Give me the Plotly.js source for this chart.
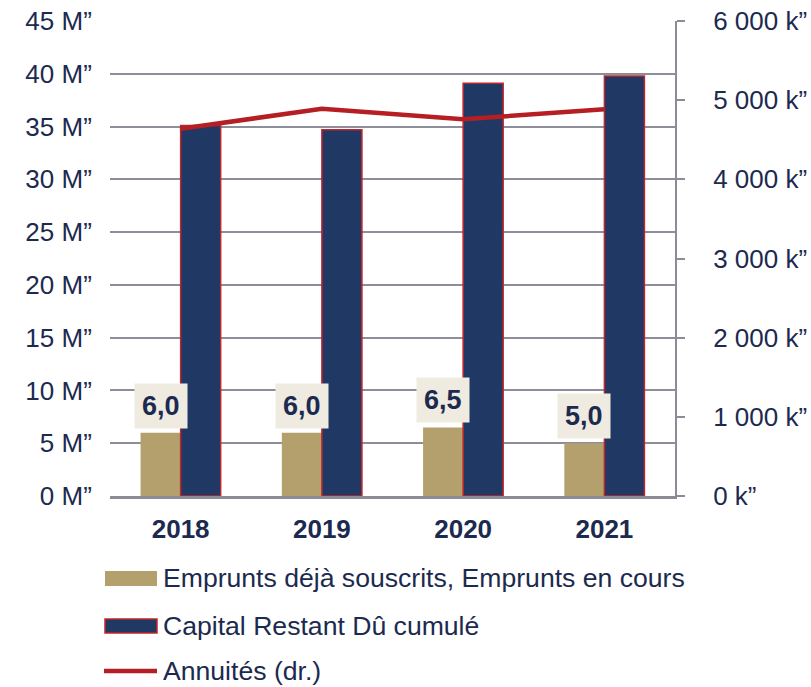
<!DOCTYPE html>
<html><head><meta charset="utf-8">
<script src="https://cdn.plot.ly/plotly-3.0.1.min.js"></script>
<style>html,body{margin:0;padding:0;background:#fff}#chart{width:811px;height:687px}</style>
</head><body><div id="chart"></div>
<script>
const years = ['2018','2019','2020','2021'];
const emprunts = [6.0, 6.0, 6.5, 5.0];            // M
const capitalRestantDu = [35.1, 34.7, 39.1, 39.8]; // M
const annuites = [4640, 4890, 4760, 4885];       // k
const empruntsLabels = ['6,0','6,0','6,5','5,0'];
const leftTickVals = [0,5,10,15,20,25,30,35,40,45];
const leftTickText = ['0 M”','5 M”','10 M”','15 M”','20 M”','25 M”','30 M”','35 M”','40 M”','45 M”'];
const rightTickVals = [0,1000,2000,3000,4000,5000,6000];
const rightTickText = ['0 k”','1 000 k”','2 000 k”','3 000 k”','4 000 k”','5 000 k”','6 000 k”'];
const legendNames = ['Emprunts déjà souscrits, Emprunts en cours','Capital Restant Dû cumulé','Annuités (dr.)'];

const navyText = '#1c2a4f';
const font = 'Liberation Sans, Arial, sans-serif';
const FS = 26;
const W = 811, H = 687;
const M = {l:110, r:136, t:21, b:191};
const pw = W - M.l - M.r, ph = H - M.t - M.b;
const px = x => (x - M.l) / pw;        // pixel -> paper x
const py = y => (H - M.b - y) / ph;    // pixel -> paper y

const traces = [
  {type:'bar', name:legendNames[0], x:years, y:emprunts,
   marker:{color:'#b4a06c'}, yaxis:'y', hoverinfo:'skip', showlegend:false},
  {type:'bar', name:legendNames[1], x:years, y:capitalRestantDu,
   marker:{color:'#1f3864', line:{color:'#c0262b', width:1.5}}, yaxis:'y', hoverinfo:'skip', showlegend:false},
  {type:'scatter', mode:'lines', name:legendNames[2], x:years, y:annuites, yaxis:'y2',
   line:{color:'#b51f24', width:4.5}, hoverinfo:'skip', showlegend:false}
];

const annotations = years.map((yr,i)=>({
  x: i, y: emprunts[i], xref:'x', yref:'y', text:'<b>'+empruntsLabels[i]+'</b>',
  showarrow:false, xshift:-20, yshift:27, bgcolor:'#efebe1', borderpad:7,
  font:{family:font, size:27, color:navyText}
}));
// custom legend
const legendY = [578, 626, 671];
legendNames.forEach((n,i)=>annotations.push({
  xref:'paper', yref:'paper', x:px(161), y:py(legendY[i]), xanchor:'left', yanchor:'middle',
  text:n, showarrow:false, font:{family:font, size:26.6, color:navyText}
}));
const shapes = [
  {type:'rect', xref:'paper', yref:'paper', x0:px(105), x1:px(157), y0:py(586), y1:py(571),
   fillcolor:'#b4a06c', line:{width:0}},
  {type:'rect', xref:'paper', yref:'paper', x0:px(105), x1:px(157), y0:py(633), y1:py(619),
   fillcolor:'#1f3864', line:{color:'#c0262b', width:1.5}},
  {type:'line', xref:'paper', yref:'paper', x0:px(104), x1:px(157), y0:py(671), y1:py(671),
   line:{color:'#b51f24', width:4.5}}
];

const layout = {
  width:W, height:H,
  margin:M,
  paper_bgcolor:'#fff', plot_bgcolor:'#fff',
  barmode:'group', bargap:0.433, bargroupgap:0,
  font:{family:font, color:navyText, size:FS},
  xaxis:{type:'category', range:[-0.5,3.5], showgrid:false, showline:true, linecolor:'#8c8c99', linewidth:2.5,
    ticks:'outside', ticklen:8, tickcolor:'rgba(0,0,0,0)',
    tickfont:{family:font, size:FS, color:navyText, weight:'bold'}},
  yaxis:{range:[0,45], tickvals:leftTickVals, ticktext:leftTickText, showgrid:true,
    gridcolor:'#8e8e9b', gridwidth:2, showline:false, zeroline:false,
    ticks:'outside', ticklen:12, tickcolor:'rgba(0,0,0,0)',
    tickfont:{family:font, size:FS, color:navyText}},
  yaxis2:{range:[0,6000], overlaying:'y', side:'right', tickvals:rightTickVals, ticktext:rightTickText,
    showgrid:false, zeroline:false, showline:true, linecolor:'#8c8c99', linewidth:2,
    ticks:'outside', ticklen:8, tickcolor:'#8c8c99', tickwidth:2, ticklabelstandoff:23,
    tickfont:{family:font, size:FS, color:navyText}},
  showlegend:false,
  annotations: annotations,
  shapes: shapes
};

Plotly.newPlot('chart', traces, layout, {displayModeBar:false, staticPlot:true});
</script></body></html>
